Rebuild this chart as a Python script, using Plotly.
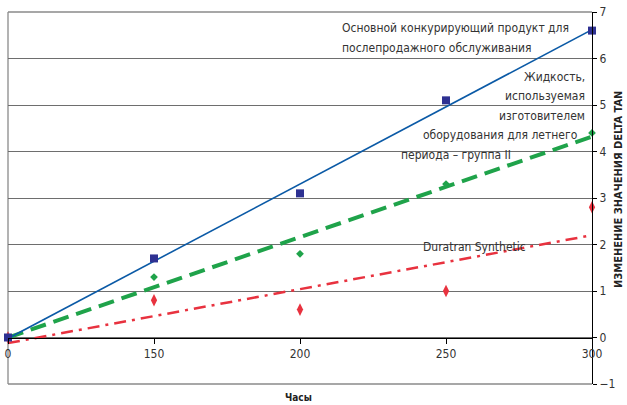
import numpy as np
import plotly.graph_objects as go

hours = ["0", "150", "200", "250", "300"]
competitor = [0.0, 1.7, 3.1, 5.1, 6.6]
oem_group2 = [0.0, 1.3, 1.8, 3.3, 4.4]
duratran = [0.0, 0.8, 0.6, 1.0, 2.8]

y_ticks = [-1, 0, 1, 2, 3, 4, 5, 6, 7]

idx = np.arange(len(hours))

def trend(vals):
    k, b = np.polyfit(idx, vals, 1)
    return k * idx + b

FONT = "DejaVu Sans Condensed, Liberation Sans Narrow, Roboto, sans-serif"

fig = go.Figure()

# trend lines
fig.add_trace(go.Scatter(x=idx, y=trend(duratran), mode="lines",
                         line=dict(color="#E8323F", width=2.5, dash="12px,6px,3px,6px"),
                         showlegend=False, hoverinfo="skip", cliponaxis=False))
fig.add_trace(go.Scatter(x=idx, y=trend(oem_group2), mode="lines",
                         line=dict(color="#1FA34A", width=4, dash="16px,8px"),
                         showlegend=False, hoverinfo="skip", cliponaxis=False))
fig.add_trace(go.Scatter(x=idx, y=trend(competitor), mode="lines",
                         line=dict(color="#0B5AA6", width=1.6),
                         showlegend=False, hoverinfo="skip", cliponaxis=False))

# markers
fig.add_trace(go.Scatter(x=idx, y=duratran, mode="markers",
                         marker=dict(symbol="diamond-tall", size=9, color="#E8323F"),
                         showlegend=False, cliponaxis=False))
fig.add_trace(go.Scatter(x=idx, y=oem_group2, mode="markers",
                         marker=dict(symbol="diamond", size=6, color="#1FA34A"),
                         showlegend=False, cliponaxis=False))
fig.add_trace(go.Scatter(x=idx, y=competitor, mode="markers",
                         marker=dict(symbol="square", size=8, color="#2E3192"),
                         showlegend=False, cliponaxis=False))

W, H = 627, 405
ml, mr, mt, mb = 8, 35, 12, 21
pw, ph = W - ml - mr, H - mt - mb

txt = dict(family=FONT, size=12, color="#333333")
ann = [
    (340, 28, "Основной конкурирующий продукт для", "left"),
    (340, 48, "послепродажного обслуживания", "left"),
    (587, 77, "Жидкость,", "right"),
    (587, 96, "используемая", "right"),
    (587, 116, "изготовителем", "right"),
    (580, 135, "оборудования для летнего", "right"),
    (513, 155, "периода – группа II", "right"),
    (421, 247, "Duratran Synthetic", "left"),
]

annotations = []
for px, py, t, xa in ann:
    annotations.append(dict(x=(px - ml) / pw, y=1 - (py - mt) / ph, xref="paper", yref="paper",
                            xanchor=xa, yanchor="middle", text=t, showarrow=False, font=txt))

annotations.append(dict(x=(298 - ml) / pw, y=1 - (397 - mt) / ph, xref="paper", yref="paper",
                        text="<b>Часы</b>", showarrow=False, xanchor="center", yanchor="middle",
                        font=dict(family=FONT, size=10, color="#222222")))
annotations.append(dict(x=(618 - ml) / pw, y=1 - (190 - mt) / ph, xref="paper", yref="paper",
                        text="<b>ИЗМЕНЕНИЕ ЗНАЧЕНИЯ DELTA TAN</b>", showarrow=False,
                        textangle=-90, xanchor="center", yanchor="middle",
                        font=dict(family=FONT, size=11, color="#222222")))

border = dict(color="#8a8a8a", width=1.3)
fig.update_layout(
    width=W, height=H,
    margin=dict(l=ml, r=mr, t=mt, b=mb, autoexpand=False),
    paper_bgcolor="white", plot_bgcolor="white",
    annotations=annotations,
    xaxis=dict(range=[0, 4], tickmode="array", tickvals=list(idx), ticktext=hours,
               showgrid=False, zeroline=False, showline=True, linecolor="black", linewidth=1.3,
               ticks="outside", ticklen=5, tickcolor="black", automargin=False,
               anchor="free", position=1 / 8,
               tickfont=dict(family=FONT, size=12, color="#333333")),
    yaxis=dict(range=[-1, 7], tickvals=y_ticks, side="right",
               showgrid=True, gridcolor="#6e6e6e", gridwidth=1.2, zeroline=False,
               showline=True, linecolor="black", linewidth=1.3, automargin=False,
               ticks="outside", ticklen=4, tickcolor="black",
               tickfont=dict(family=FONT, size=12, color="#333333")),
    shapes=[dict(type="line", xref="paper", yref="paper", x0=0, x1=0, y0=0, y1=1, line=border, layer="below"),
            dict(type="line", xref="paper", yref="paper", x0=0, x1=1, y0=1, y1=1, line=border, layer="below"),
            dict(type="line", xref="paper", yref="paper", x0=0, x1=1, y0=0, y1=0, line=border, layer="below")],
)

fig.write_html("out.html", config={"displayModeBar": False},
               post_script="document.body.style.margin='0';document.body.style.overflow='hidden';")
